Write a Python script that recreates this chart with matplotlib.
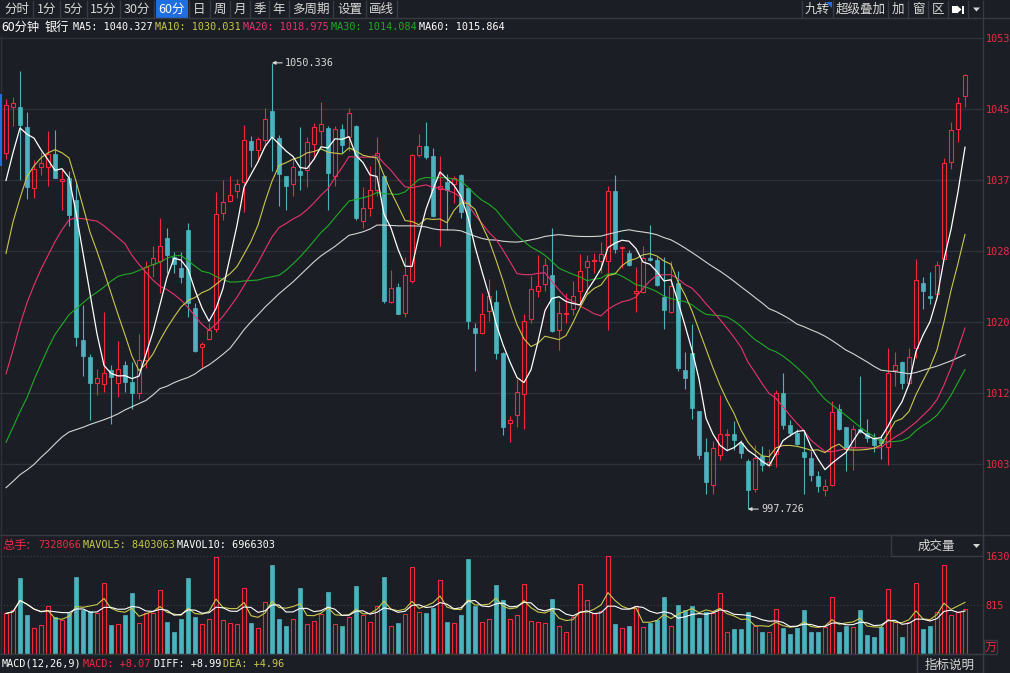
import matplotlib
matplotlib.use('Agg')
import matplotlib.pyplot as plt
from matplotlib.patches import Rectangle, Polygon
from matplotlib.lines import Line2D
import numpy as np
import pandas as pd

# ---- data (60 min bars) ----
opens = [1039.73, 1045.18, 1045.08, 1042.76, 1035.54, 1038.01, 1038.01, 1039.64, 1036.38, 1036.70,
         1034.14, 1017.61, 1015.66, 1012.59, 1012.49, 1014.08, 1012.59, 1014.73, 1012.73, 1011.47,
         1015.29, 1026.65, 1026.93, 1029.67, 1027.39, 1026.13, 1030.60, 1021.43, 1016.82, 1017.75,
         1018.92, 1032.65, 1034.05, 1035.17, 1036.24, 1041.17, 1040.10, 1041.27, 1044.62, 1041.45,
         1036.94, 1036.01, 1037.64, 1037.73, 1040.80, 1042.29, 1042.66, 1037.03, 1042.48, 1041.59,
         1042.90, 1031.68, 1033.21, 1035.31, 1036.94, 1022.13, 1023.90, 1020.87, 1024.60, 1039.50,
         1040.57, 1039.36, 1035.45, 1036.24, 1036.01, 1037.17, 1035.54, 1019.10, 1018.45, 1021.11,
         1022.13, 1016.12, 1007.84, 1008.86, 1011.33, 1020.08, 1023.43, 1024.23, 1025.30, 1018.87,
         1020.73, 1021.34, 1023.43, 1026.23, 1026.93, 1026.93, 1026.93, 1035.21, 1028.46, 1027.86,
         1023.20, 1023.29, 1027.30, 1027.11, 1022.74, 1020.97, 1024.37, 1014.12, 1016.08, 1009.33,
         1004.48, 1000.62, 1004.11, 1006.44, 1006.53, 1005.51, 1003.41, 1000.06, 1004.02, 1002.95,
         1004.21, 1011.42, 1007.60, 1006.67, 1004.44, 1003.74, 1001.64, 999.92, 1000.62, 1009.56,
         1007.37, 1005.04, 1007.14, 1006.67, 1006.07, 1005.97, 1005.04, 1014.12, 1015.05, 1012.59,
         1016.68, 1024.37, 1022.83, 1023.06, 1027.16, 1038.66, 1042.52, 1046.39]
highs = [1046.11, 1046.34, 1049.37, 1044.53, 1038.89, 1039.82, 1042.29, 1042.38, 1037.87, 1037.64,
         1036.24, 1021.80, 1015.98, 1014.26, 1020.97, 1014.73, 1017.52, 1015.19, 1015.05, 1018.31,
         1026.93, 1028.70, 1032.05, 1030.88, 1028.00, 1028.09, 1031.44, 1022.04, 1017.38, 1019.71,
         1035.07, 1036.47, 1036.94, 1036.61, 1042.99, 1041.73, 1041.55, 1044.99, 1050.336, 1041.83,
         1036.94, 1039.03, 1042.76, 1041.59, 1043.22, 1045.69, 1042.85, 1042.85, 1043.13, 1044.99,
         1042.99, 1035.68, 1038.19, 1041.59, 1037.17, 1025.86, 1024.37, 1027.48, 1039.59, 1041.92,
         1043.36, 1040.29, 1039.40, 1037.26, 1036.94, 1037.26, 1035.54, 1019.71, 1023.20, 1024.83,
         1023.57, 1016.22, 1008.67, 1013.05, 1020.73, 1025.16, 1027.72, 1027.30, 1030.88, 1022.27,
         1023.20, 1024.60, 1027.76, 1027.63, 1027.95, 1029.16, 1035.87, 1037.17, 1028.79, 1028.32,
         1026.23, 1028.79, 1031.21, 1027.48, 1027.39, 1026.93, 1025.76, 1016.22, 1019.57, 1009.33,
         1006.11, 1005.74, 1011.19, 1007.14, 1008.07, 1005.88, 1003.65, 1005.28, 1005.14, 1004.81,
         1011.79, 1013.75, 1008.21, 1007.14, 1006.91, 1004.58, 1002.25, 1001.32, 1010.49, 1010.07,
         1007.46, 1007.60, 1013.42, 1008.40, 1006.67, 1006.44, 1016.68, 1016.22, 1015.19, 1016.68,
         1027.16, 1025.06, 1025.62, 1026.93, 1039.13, 1043.36, 1046.25, 1049.04]
lows = [1039.03, 1042.85, 1036.47, 1034.28, 1034.38, 1037.17, 1035.77, 1036.80, 1032.98, 1031.12,
        1016.92, 1013.42, 1008.21, 1011.19, 1011.56, 1007.74, 1010.96, 1011.56, 1009.47, 1010.72,
        1014.35, 1025.06, 1023.20, 1025.53, 1025.53, 1024.37, 1020.41, 1016.22, 1014.45, 1017.61,
        1018.55, 1031.82, 1033.91, 1034.38, 1032.75, 1038.10, 1038.80, 1040.43, 1037.64, 1033.44,
        1032.98, 1034.61, 1035.31, 1035.68, 1039.03, 1040.66, 1032.98, 1035.77, 1039.73, 1039.96,
        1031.82, 1030.88, 1032.28, 1034.61, 1022.04, 1022.04, 1020.73, 1020.41, 1024.37, 1039.26,
        1038.94, 1032.14, 1028.70, 1030.65, 1033.82, 1032.05, 1019.01, 1013.98, 1018.31, 1019.94,
        1015.38, 1006.44, 1005.60, 1007.46, 1007.14, 1019.71, 1022.74, 1023.43, 1018.55, 1016.45,
        1019.71, 1020.64, 1021.90, 1023.06, 1025.53, 1025.53, 1018.78, 1027.95, 1026.09, 1026.37,
        1021.01, 1023.20, 1026.93, 1024.04, 1018.92, 1020.87, 1013.98, 1011.93, 1008.40, 1003.65,
        999.55, 999.55, 1003.51, 1004.58, 1004.67, 1003.74, 997.726, 999.69, 1002.16, 1002.72,
        1002.72, 1007.14, 1006.35, 1005.28, 999.46, 1001.09, 999.69, 999.22, 1000.39, 1007.00,
        1002.16, 1002.34, 1006.67, 1005.60, 1004.48, 1003.65, 1002.95, 1012.26, 1011.93, 1012.49,
        1015.52, 1021.34, 1021.90, 1022.83, 1027.16, 1037.87, 1040.99, 1045.18]
closes = [1045.32, 1045.55, 1042.99, 1035.68, 1037.77, 1038.47, 1039.59, 1036.80, 1036.66, 1032.42,
          1017.99, 1015.75, 1012.59, 1013.19, 1013.80, 1013.28, 1014.26, 1012.73, 1011.47, 1015.29,
          1026.23, 1027.35, 1028.74, 1027.63, 1026.60, 1025.06, 1022.04, 1016.36, 1017.15, 1018.78,
          1032.51, 1033.91, 1034.70, 1036.01, 1041.22, 1040.06, 1041.31, 1043.69, 1041.59, 1037.26,
          1035.87, 1038.10, 1037.17, 1040.99, 1042.76, 1043.18, 1037.40, 1042.57, 1040.66, 1044.39,
          1032.05, 1033.21, 1035.31, 1039.73, 1022.27, 1023.76, 1020.78, 1025.30, 1039.50, 1040.57,
          1039.26, 1032.28, 1035.77, 1035.40, 1036.80, 1032.75, 1019.94, 1018.45, 1020.73, 1022.83,
          1016.12, 1007.46, 1008.21, 1011.56, 1019.85, 1023.67, 1024.04, 1026.55, 1018.69, 1020.87,
          1020.87, 1022.83, 1025.76, 1026.93, 1027.11, 1027.76, 1035.21, 1028.42, 1028.60, 1026.55,
          1023.39, 1027.30, 1027.11, 1024.13, 1021.20, 1024.04, 1014.35, 1013.19, 1009.61, 1004.11,
          1000.95, 1004.95, 1006.58, 1006.53, 1005.83, 1004.35, 999.92, 1003.74, 1002.95, 1003.27,
          1011.42, 1007.60, 1006.67, 1005.42, 1003.88, 1001.69, 1000.48, 1000.39, 1009.23, 1007.14,
          1004.81, 1007.14, 1006.77, 1006.07, 1005.28, 1005.51, 1013.80, 1014.73, 1012.59, 1015.66,
          1024.74, 1023.43, 1022.64, 1026.55, 1038.47, 1042.38, 1045.64, 1048.90]
# volume in 万手
volumes = [672, 730, 1258, 639, 424, 476, 802, 606, 567, 672,
           1284, 737, 717, 685, 1174, 476, 489, 639, 1011, 509,
           685, 672, 1056, 535, 359, 587, 1258, 606, 489, 587,
           1610, 567, 509, 489, 1095, 509, 437, 861, 1467, 574,
           456, 574, 1089, 502, 554, 665, 1024, 502, 456, 606,
           1121, 639, 535, 802, 1284, 456, 509, 665, 1447, 698,
           672, 763, 1219, 535, 520, 639, 1578, 795, 535, 587,
           1141, 893, 587, 639, 1161, 554, 535, 509, 913, 456,
           359, 606, 1154, 900, 685, 717, 1630, 502, 424, 456,
           802, 443, 509, 567, 945, 469, 815, 737, 802, 600,
           698, 672, 1011, 359, 411, 411, 698, 456, 359, 359,
           750, 424, 326, 424, 737, 359, 359, 443, 945, 359,
           469, 443, 737, 313, 280, 443, 1076, 522, 280, 522,
           1174, 411, 456, 704, 1467, 652, 704, 750]

# moving-average values at the start of the window (history is off screen)
ma5_head = [1036.47, 1039.73, 1042.66, 1041.92]
ma10_head = [1027.86, 1031.58, 1034.38, 1036.94, 1038.19, 1039.13, 1039.73, 1040.10, 1039.73]
ma20_head = [1013.66, 1016.45, 1019.48, 1022.04, 1024.13, 1026.00, 1027.63, 1029.25, 1030.65, 1031.82,
             1032.05, 1031.95, 1031.82, 1031.68, 1031.12, 1030.42, 1029.72, 1029.02, 1027.63]
ma30_head = [1005.60, 1007.37, 1009.23, 1010.86, 1012.96, 1014.82, 1016.68, 1018.31, 1019.48, 1020.64,
             1021.34, 1022.04, 1022.74, 1023.29, 1023.90, 1024.60, 1025.16, 1025.39, 1025.53, 1025.86,
             1026.23, 1026.55, 1026.83, 1027.30, 1027.58, 1027.63, 1027.02, 1026.37, 1025.76]
ma60_head = [1000.25, 1000.99, 1001.78, 1002.34, 1002.99, 1003.83, 1004.58, 1005.42, 1006.21, 1006.81,
             1007.09, 1007.37, 1007.70, 1007.98, 1008.26, 1008.58, 1008.95, 1009.42, 1009.79, 1010.16,
             1010.54, 1011.19, 1011.93, 1012.21, 1012.63, 1012.96, 1013.24, 1013.66, 1014.26, 1014.73,
             1015.33, 1015.98, 1016.68, 1017.75, 1018.87, 1019.80, 1020.64, 1021.53, 1022.32, 1023.11,
             1023.81, 1024.51, 1025.30, 1026.09, 1026.88, 1027.58, 1028.14, 1028.70, 1029.35, 1030.00,
             1030.19, 1030.42, 1030.74, 1031.21, 1031.21, 1031.16, 1031.12, 1031.12, 1031.12]

# values printed in the header rows
ma_names = ['MA5', 'MA10', 'MA20', 'MA30', 'MA60']
ma_last = ['1040.327', '1030.031', '1018.975', '1014.084', '1015.864']
total_hands = '7328066'
mavol5_last = '8403063'
mavol10_last = '6966303'
macd_vals = ['+8.07', '+8.99', '+4.96']

price_ticks = [1003.04, 1011.42, 1019.80, 1028.18, 1036.56, 1044.94, 1053.32]
price_labels = ['1003', '1012', '1020', '1028', '1037', '1045', '1053']
vol_ticks = [815, 1630]
vol_labels = ['815', '1630']

# ---- style ----
W, H = 1010, 673
BG = '#1b1e24'
GRID = '#2e3137'
EDGE = '#373a41'
RED = '#f2283e'
CYAN = '#4cb3be'
AXRED = '#ee2a44'
YEL = '#c8c84c'
PINK = '#e8336f'
GREEN = '#20ab26'
GRAY60 = '#d4d4d4'
TXT = '#d8d8d8'
BLUE = '#1f6fe0'
MONO = ['DejaVu Sans Mono', 'Noto Sans CJK SC']
CJK = ['Noto Sans CJK SC', 'DejaVu Sans']
plt.rcParams['font.family'] = MONO

fig = plt.figure(figsize=(W / 100, H / 100), dpi=100, facecolor=BG)


def px_ax(x0, y0, x1, y1):
    return fig.add_axes([x0 / W, 1 - y1 / H, (x1 - x0) / W, (y1 - y0) / H])


def ftext(x, y, s, color, size=7.3, ha='left', family=MONO, **kw):
    fig.text(x / W, 1 - y / H, s, color=color, fontsize=size, ha=ha, va='center', family=family, **kw)


def fline(xs, ys, color=EDGE, lw=1.0):
    fig.add_artist(Line2D([x / W for x in xs], [1 - y / H for y in ys], color=color, lw=lw))


def frect(x0, y0, x1, y1, **kw):
    fig.add_artist(Rectangle((x0 / W, 1 - y1 / H), (x1 - x0) / W, (y1 - y0) / H,
                             transform=fig.transFigure, **kw))


n = len(closes)
xs = np.arange(n)
o = np.array(opens); h = np.array(highs); l = np.array(lows); c = np.array(closes)
up = c >= o
BW = 0.62

# ---- price panel ----
ax = px_ax(0, 36, 983, 535)
ax.set_facecolor(BG)
ax.set_xlim(-6 / 7, 977 / 7)
ax.set_ylim(994.67, 1053.5)
for s in ax.spines.values():
    s.set_visible(False)
ax.set_xticks([])
ax.yaxis.tick_right()
ax.set_yticks(price_ticks, price_labels)
ax.tick_params(axis='y', length=0, pad=2, labelsize=7.3, labelcolor=AXRED)
ax.grid(axis='y', color=GRID, lw=1.0)
ax.set_axisbelow(True)

for i in range(n):
    top, bot = max(o[i], c[i]), min(o[i], c[i])
    hgt = max(top - bot, 0.12)
    if up[i]:
        ax.vlines(i, top, h[i], color=RED, lw=0.8, zorder=3)
        ax.vlines(i, l[i], bot, color=RED, lw=0.8, zorder=3)
        ax.add_patch(Rectangle((i - BW / 2, bot), BW, hgt, facecolor='none', edgecolor=RED, lw=0.8, zorder=4))
    else:
        ax.vlines(i, l[i], h[i], color=CYAN, lw=0.8, zorder=3)
        ax.add_patch(Rectangle((i - BW / 2, bot), BW, hgt, facecolor=CYAN, edgecolor=CYAN, lw=0.5, zorder=4))

close_s = pd.Series(closes)


def ma_line(win, head):
    m = close_s.rolling(win).mean().to_numpy()
    m[:win - 1] = head
    return m


ma5 = ma_line(5, ma5_head)
ma10 = ma_line(10, ma10_head)
ma20 = ma_line(20, ma20_head)
ma30 = ma_line(30, ma30_head)
ma60 = ma_line(60, ma60_head)
ax.plot(xs, ma60, color=GRAY60, lw=0.8, zorder=5)
ax.plot(xs, ma30, color=GREEN, lw=0.8, zorder=5)
ax.plot(xs, ma20, color=PINK, lw=0.8, zorder=5)
ax.plot(xs, ma10, color=YEL, lw=0.8, zorder=5)
ax.plot(xs, ma5, color='white', lw=0.9, zorder=6)

hi_i = int(np.argmax(h))
lo_i = int(np.argmin(l))
for idx, val in ((hi_i, h[hi_i]), (lo_i, l[lo_i])):
    ax.annotate(f'{val:.3f}', xy=(idx, val), xytext=(13, 0), textcoords='offset pixels',
                va='center', ha='left', color=TXT, fontsize=7.3,
                arrowprops=dict(arrowstyle='-|>', color=TXT, lw=0.8, shrinkA=0, shrinkB=0,
                                mutation_scale=5))

# ---- volume panel ----
axv = px_ax(0, 536, 983, 654)
axv.set_facecolor(BG)
axv.set_xlim(-6 / 7, 977 / 7)
axv.set_ylim(0, 1955)
for s in axv.spines.values():
    s.set_visible(False)
axv.set_xticks([])
axv.yaxis.tick_right()
axv.set_yticks(vol_ticks, vol_labels)
axv.tick_params(axis='y', length=0, pad=2, labelsize=7.3, labelcolor=AXRED)
for t in vol_ticks:
    axv.axhline(t, color='#3c4047', lw=0.8, ls=(0, (1, 2)), zorder=1)
v = np.array(volumes, dtype=float)
for i in range(n):
    if up[i]:
        axv.add_patch(Rectangle((i - BW / 2, 0), BW, v[i], facecolor='none', edgecolor=RED, lw=0.8, zorder=3))
    else:
        axv.add_patch(Rectangle((i - BW / 2, 0), BW, v[i], facecolor=CYAN, edgecolor=CYAN, lw=0.5, zorder=3))
vol_s = pd.Series(volumes, dtype=float)
axv.plot(xs, vol_s.rolling(5, min_periods=1).mean(), color=YEL, lw=0.8, zorder=4)
axv.plot(xs, vol_s.rolling(10, min_periods=1).mean(), color='white', lw=0.8, zorder=4)

# ---- frame lines ----
fline([0, W], [18, 18])
fline([983, 983], [18, H])
fline([0, W], [535, 535])
fline([0, 983], [654, 654])
fline([1, 1], [36, 654], color=GRID)
fline([1, 1], [95, 165], color=BLUE, lw=1.5)

# ---- toolbar ----
tool_names = ['分时', '1分', '5分', '15分', '30分', '60分', '日', '周', '月', '季', '年', '多周期', '设置', '画线']
tool_edges = [0, 33, 60, 87, 120, 154, 189, 210, 230, 250, 269, 289, 333, 366, 397]
frect(156, 0, 188, 18, facecolor=BLUE, edgecolor='none')
for k, name in enumerate(tool_names):
    x0, x1 = tool_edges[k], tool_edges[k + 1]
    col = 'white' if name == '60分' else TXT
    ftext((x0 + x1) / 2, 9, name, col, size=9, ha='center', family=CJK)
for e in tool_edges[1:]:
    fline([e, e], [1, 17])

right_names = ['九转', '超级叠加', '加', '窗', '区']
right_edges = [802, 833, 888, 908, 928, 948, 968, 983]
for k, name in enumerate(right_names):
    ftext((right_edges[k] + right_edges[k + 1]) / 2, 9, name, TXT, size=9, ha='center', family=CJK)
for e in right_edges:
    fline([e, e], [1, 17])
fig.add_artist(Polygon([(826 / W, 1 - 2 / H), (832 / W, 1 - 2 / H), (832 / W, 1 - 8 / H)],
                       closed=True, transform=fig.transFigure, facecolor=BLUE, edgecolor='none'))
frect(952, 6, 957, 13, facecolor='white', edgecolor='none')
fig.add_artist(Polygon([(957 / W, 1 - 5.5 / H), (957 / W, 1 - 13.5 / H), (961.5 / W, 1 - 9.5 / H)],
                       closed=True, transform=fig.transFigure, facecolor='white', edgecolor='none'))
frect(962, 5.5, 964, 13.5, facecolor='white', edgecolor='none')
fig.add_artist(Polygon([(973 / W, 1 - 7.5 / H), (980 / W, 1 - 7.5 / H), (976.5 / W, 1 - 11.5 / H)],
                       closed=True, transform=fig.transFigure, facecolor=TXT, edgecolor='none'))

# ---- MA header ----
ftext(1, 27, '60分钟', 'white', size=8.8, family=CJK)
ftext(45, 27, '银行', 'white', size=8.8, family=CJK)
ma_x = [73, 155, 243, 331, 419]
ma_cols = ['white', YEL, PINK, GREEN, 'white']
for name, val, x, col in zip(ma_names, ma_last, ma_x, ma_cols):
    ftext(x, 27, f'{name}: {val}', col)

# ---- volume header ----
ftext(2, 545, '总手:', AXRED, size=8.8, family=CJK)
ftext(38, 545, total_hands, AXRED)
ftext(83, 545, f'MAVOL5: {mavol5_last}', YEL)
ftext(177, 545, f'MAVOL10: {mavol10_last}', 'white')
frect(891, 535, 983, 556, facecolor=BG, edgecolor=EDGE, lw=1)
ftext(936, 546, '成交量', TXT, size=9, ha='center', family=CJK)
fig.add_artist(Polygon([(973 / W, 1 - 544 / H), (980 / W, 1 - 544 / H), (976.5 / W, 1 - 548 / H)],
                       closed=True, transform=fig.transFigure, facecolor=TXT, edgecolor='none'))
frect(984, 640, 997, 654, facecolor='none', edgecolor=EDGE, lw=1)
ftext(990.5, 647, '万', AXRED, size=8.5, ha='center', family=CJK)

# ---- MACD row ----
ftext(2, 664, 'MACD(12,26,9)', 'white')
ftext(83, 664, f'MACD: {macd_vals[0]}', AXRED)
ftext(154, 664, f'DIFF: {macd_vals[1]}', 'white')
ftext(223, 664, f'DEA: {macd_vals[2]}', YEL)
frect(917, 654, 983, 673, facecolor=BG, edgecolor=EDGE, lw=1)
ftext(950, 665, '指标说明', TXT, size=9, ha='center', family=CJK)

fig.savefig('out.png', dpi=100, facecolor=BG)
